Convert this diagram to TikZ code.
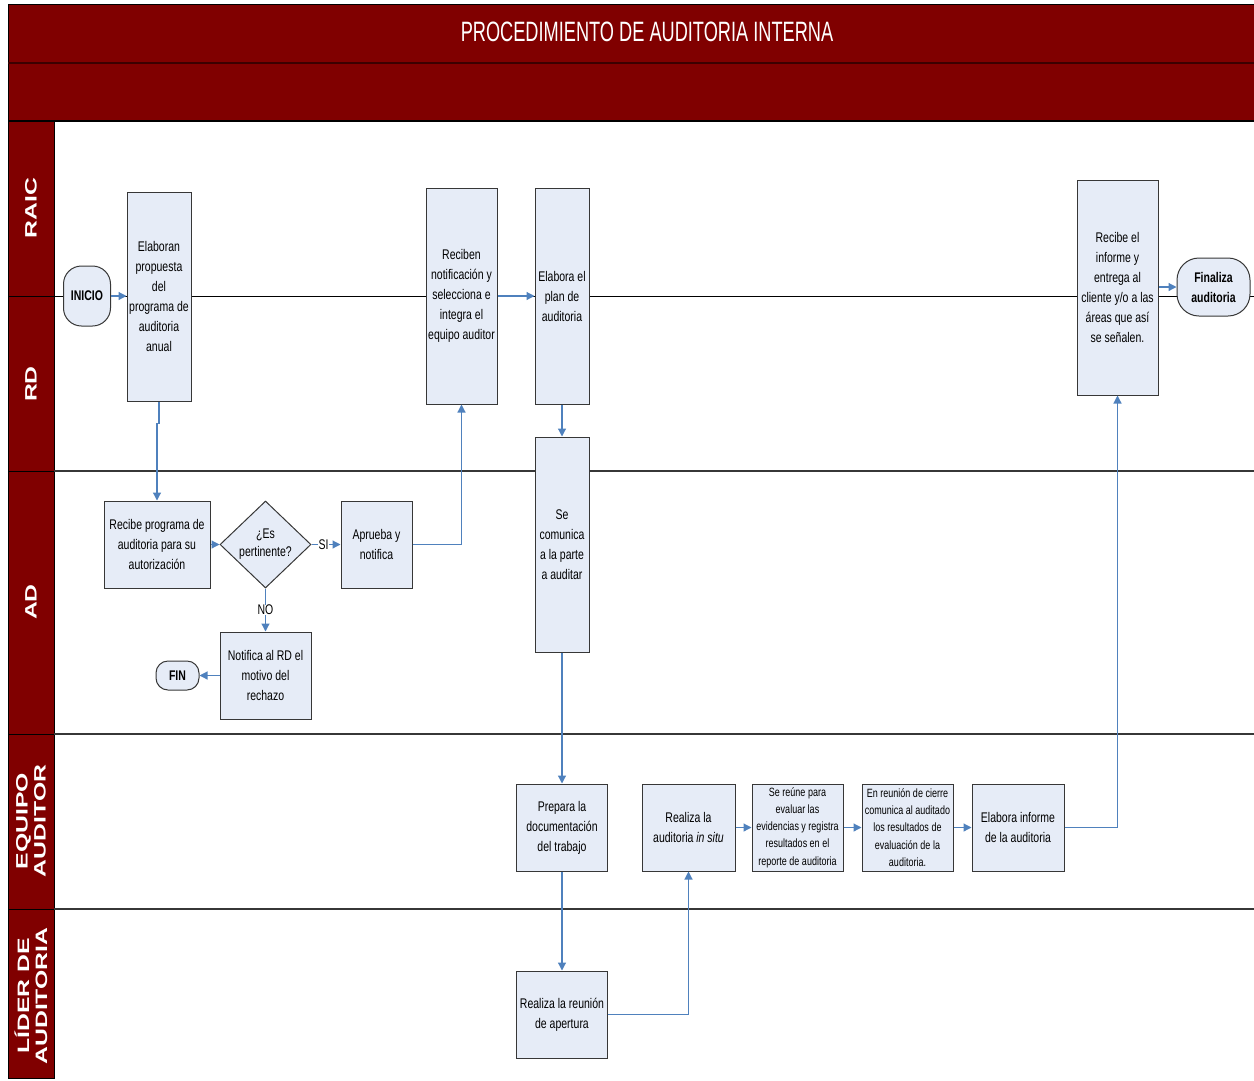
\documentclass[tikz,border=0pt]{standalone}
\usepackage{fontspec}
\setmainfont{Liberation Sans}[FakeStretch=0.75]
\newfontfamily\lanefont{Liberation Sans}[FakeStretch=1.5]
\newfontfamily\titlefont{Liberation Sans}[FakeStretch=0.65]
\usepackage{tikz}
\usetikzlibrary{shapes.geometric, positioning, arrows.meta}
\definecolor{AUMaroon}{RGB}{128,0,0}
\definecolor{AUDark}{RGB}{60,0,0}
\definecolor{AUFill}{RGB}{230,236,247}
\definecolor{AUBlue}{RGB}{79,129,189}
\definecolor{AUGray}{RGB}{55,55,55}

\begin{document}
\begin{tikzpicture}[x=1pt, y=-1pt,
          box/.style={rectangle, draw=AUGray, line width=1pt, fill=AUFill,
                      align=center, inner sep=1pt, font=\fontsize{14}{20}\selectfont},
          smallbox/.style={box, font=\fontsize{12}{17.3}\selectfont},
          term/.style={rectangle, rounded corners=#1, draw=AUGray, line width=1pt,
                       fill=AUFill, align=center, inner sep=1pt,
                       font=\fontsize{14}{20}\selectfont\bfseries},
          decision/.style={diamond, draw=AUGray, line width=1pt, fill=AUFill,
                           align=center, inner sep=0pt, font=\fontsize{14}{18}\selectfont},
          arr/.style={-{Triangle[length=8pt, width=8pt]}, draw=AUBlue, line width=1.2pt},
          lbl/.style={font=\fontsize{14}{16}\selectfont, fill=white, inner sep=0.5pt},
          lane/.style={text=white, align=center, rotate=90,
                       font=\lanefont\fontsize{16.5}{18}\selectfont\bfseries}
        ]
        \useasboundingbox (0,0) rectangle (1254,1080);

        % header bands
        \fill[AUMaroon] (8,4) rectangle (1254,121);
        \draw[black, line width=1pt] (1254,4) -- (8,4) -- (8,1078);
        \draw[AUDark, line width=2pt] (8,62.5) -- (1254,62.5);
        \draw[black, line width=1.5pt] (8,121) -- (1254,121);
        \node[text=white, font=\titlefont\fontsize{28}{30}\selectfont] (title) at (647,32)
              {PROCEDIMIENTO DE AUDITORIA INTERNA};

        % swimlanes
        \foreach \ya/\yb in {121/296, 296/471, 471/734, 734/909, 909/1078}
          \draw[fill=AUMaroon, draw=black, line width=1pt] (8,\ya) rectangle (54,\yb);
        \draw[black, line width=0.8pt] (54,296) -- (1254,296);
        \foreach \yl in {471, 734, 909}
          \draw[AUGray, line width=1.6pt] (54,\yl) -- (1254,\yl);

        \node[lane] (lraic) at (31,208) {RAIC};
        \node[lane] (lrd)   at (31,384) {RD};
        \node[lane] (lad)   at (31,602) {AD};
        \node[lane] (leq)   at (31,821) {EQUIPO\\AUDITOR};
        \node[lane] (llid)  at (31,996) {LÍDER DE\\AUDITORIA};

        % RAIC / RD
        \node[term=18pt, minimum width=47, minimum height=60] (inicio) at (87,296) {INICIO};
        \node[box, minimum width=64, minimum height=209] (elab) at (159,296.5)
              {Elaboran\\propuesta\\del\\programa de\\auditoria\\anual};
        \node[box, minimum width=71, minimum height=216] (reciben) at (461.5,296)
              {Reciben\\notificación y\\selecciona e\\integra el\\equipo auditor};
        \node[box, minimum width=54, minimum height=216] (plan) at (562,296)
              {Elabora el\\plan de\\auditoria};
        \node[box, minimum width=81, minimum height=215] (recinf) at (1117.5,287.5)
              {Recibe el\\informe y\\entrega al\\cliente y/o a las\\áreas que así\\se señalen.};
        \node[term=22pt, minimum width=73, minimum height=58] (finaliza) at (1213.5,287)
              {Finaliza\\auditoria};
        \node[box, minimum width=54, minimum height=215] (comunica) at (562,544.5)
              {Se\\comunica\\a la parte\\a auditar};

        % AD
        \node[box, minimum width=106, minimum height=87] (recprog) at (157,544.5)
              {Recibe programa de\\auditoria para su\\autorización};
        \node[decision, minimum width=91, minimum height=87] (pert) at (265.5,544.5)
              {¿Es\\pertinente?};
        \node[box, minimum width=71, minimum height=87] (aprueba) at (376.5,544.5)
              {Aprueba y\\notifica};
        \node[box, minimum width=91, minimum height=87] (notif) at (265.5,675.5)
              {Notifica al RD el\\motivo del\\rechazo};
        \node[term=12pt, minimum width=43, minimum height=29] (fin) at (177.5,675.5) {FIN};

        % EQUIPO AUDITOR
        \node[box, minimum width=91, minimum height=87] (prepara) at (562,827.5)
              {Prepara la\\documentación\\del trabajo};
        \node[box, minimum width=93, minimum height=87] (insitu) at (688.5,827.5)
              {Realiza la\\auditoria \textit{in situ}};
        \node[smallbox, minimum width=91, minimum height=87] (reune) at (797.5,827.5)
              {Se reúne para\\evaluar las\\evidencias y registra\\resultados en el\\reporte de auditoria};
        \node[smallbox, minimum width=91, minimum height=87] (cierre) at (907.5,827.5)
              {En reunión de cierre\\comunica al auditado\\los resultados de\\evaluación de la\\auditoria.};
        \node[box, minimum width=92, minimum height=87] (elabinf) at (1018,827.5)
              {Elabora informe\\de la auditoria};

        % LIDER DE AUDITORIA
        \node[box, minimum width=91, minimum height=87] (apertura) at (562,1014.5)
              {Realiza la reunión\\de apertura};

        \draw[arr] (inicio.east) -- (inicio.east -| elab.west);
        \draw[arr] (elab.south) -- ++(0,22) -| (recprog.north);
        \draw[arr] (recprog) -- (pert);
        \draw[arr] (pert) -- node[lbl, pos=0.42] {SI} (aprueba);
        \draw[arr] (pert) -- node[lbl] {NO} (notif);
        \draw[arr] (notif) -- (fin);
        \draw[arr] (aprueba.east) -| (reciben.south);
        \draw[arr] (reciben) -- (plan);
        \draw[arr] (plan) -- (comunica);
        \draw[arr] (comunica) -- (prepara);
        \draw[arr] (prepara) -- (apertura);
        \draw[arr] (apertura.east) -| (insitu.south);
        \draw[arr] (insitu) -- (reune);
        \draw[arr] (reune) -- (cierre);
        \draw[arr] (cierre) -- (elabinf);
        \draw[arr] (elabinf.east) -| (recinf.south);
        \draw[arr] (recinf.east |- finaliza.west) -- (finaliza.west);
\end{tikzpicture}
\end{document}
